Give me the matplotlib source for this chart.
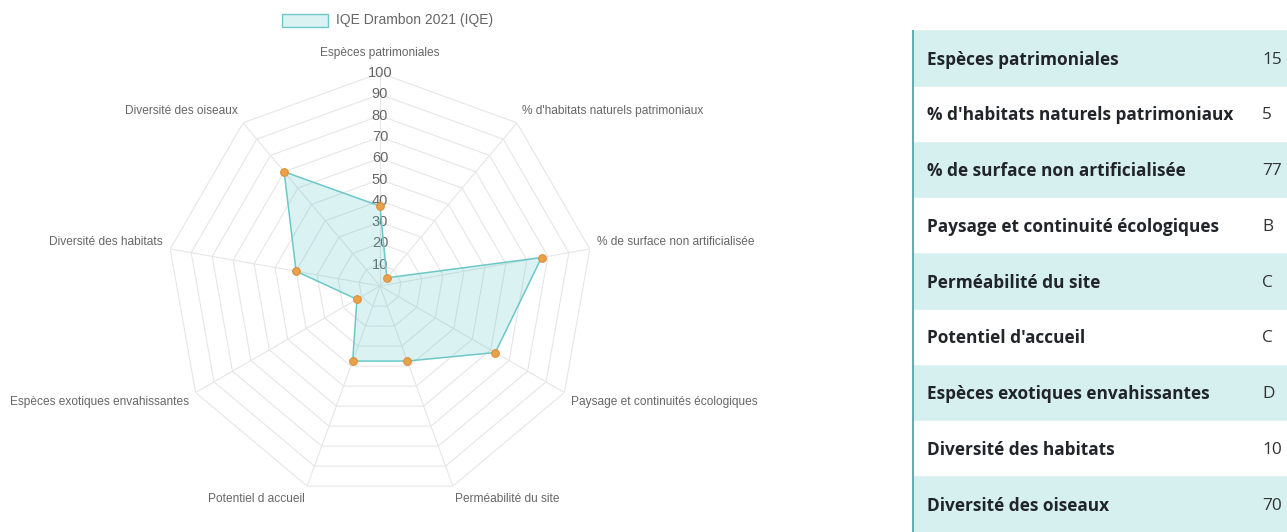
import numpy as np
import matplotlib.pyplot as plt
from matplotlib.patches import Rectangle

# radar data
categories = ["Espèces patrimoniales", "% d'habitats naturels patrimoniaux",
              "% de surface non artificialisée", "Paysage et continuités écologiques",
              "Perméabilité du site", "Potentiel d accueil",
              "Espèces exotiques envahissantes", "Diversité des habitats",
              "Diversité des oiseaux"]
values = [37.5, 5, 77, 62.5, 37.5, 37.5, 12.5, 40, 70]
ticks = [10, 20, 30, 40, 50, 60, 70, 80, 90, 100]
series_name = "IQE Drambon 2021 (IQE)"

# table data
table_labels = ["Espèces patrimoniales", "% d'habitats naturels patrimoniaux",
                "% de surface non artificialisée", "Paysage et continuité écologiques",
                "Perméabilité du site", "Potentiel d'accueil",
                "Espèces exotiques envahissantes", "Diversité des habitats",
                "Diversité des oiseaux"]
table_values = ["15", "5", "77", "B", "C", "C", "D", "10", "70"]

W, H = 1287, 532
fig = plt.figure(figsize=(W / 100, H / 100), dpi=100)

grey = "#666666"
teal = (75 / 255, 192 / 255, 192 / 255)
lab_font = "Liberation Sans"

# ---- radar ----
cx, cy, R = 380, 286, 213
ax = fig.add_axes([(cx - R) / W, (H - cy - R) / H, 2 * R / W, 2 * R / H], projection="polar")
ax.set_theta_zero_location("N")
ax.set_theta_direction(-1)
ax.set_ylim(0, 100)
ax.grid(False)
ax.spines["polar"].set_visible(False)
ax.set_xticks([])
ax.set_yticks([])
ax.patch.set_alpha(0)

n = len(categories)
theta = np.linspace(0, 2 * np.pi, n, endpoint=False)
closed = np.append(theta, theta[0])

for t in ticks:
    ax.plot(closed, [t] * (n + 1), color="#e6e6e6", lw=0.8, zorder=1)
for th in theta:
    ax.plot([th, th], [0, 100], color="#e6e6e6", lw=0.8, zorder=1)

for t in ticks:
    ax.text(0, t, str(t), ha="center", va="center", fontsize=10.5,
            color=grey, family=lab_font, zorder=2)

vals = np.append(values, values[0])
ax.fill(closed, vals, color=teal, alpha=0.2, lw=0, zorder=3)
ax.plot(closed, vals, color="#6cc8c8", lw=1.1, zorder=4)
ax.plot(theta, values, "o", ms=5.5, mfc="#eba04a", mec="#d98f3c", mew=0.8, zorder=5)

for th, lab in zip(theta, categories):
    s, c = np.sin(th), np.cos(th)
    ha = "center" if abs(s) < 0.05 else ("left" if s > 0 else "right")
    va = "bottom" if c > 0.05 else ("top" if c < -0.05 else "center")
    r = 103.5 + (3 if abs(s) < 0.05 else 0)
    ax.text(th, r, lab, ha=ha, va=va, fontsize=8.6, color=grey, family=lab_font)
for t in ax.texts:
    t.set_clip_on(False)

# legend
fig.patches.append(Rectangle((282 / W, 1 - 27 / H), 46 / W, 13 / H, transform=fig.transFigure,
                             facecolor=(*teal, 0.2), edgecolor="#6cc8c8", lw=1))
fig.text(336 / W, 1 - 20 / H, series_name, ha="left", va="center", fontsize=10,
         color=grey, family=lab_font)

# ---- table ----
tx0, ty0 = 912, 30
tab = fig.add_axes([tx0 / W, 0, (W - tx0) / W, (H - ty0) / H])
tab.set_xlim(0, W - tx0)
tab.set_ylim(len(table_labels), 0)
tab.axis("off")
for i, (lab, val) in enumerate(zip(table_labels, table_values)):
    fc = "#d6f0f0" if i % 2 == 0 else "white"
    tab.add_patch(Rectangle((0, i), W - tx0, 1, facecolor=fc, edgecolor="none"))
    tab.plot([0, W - tx0], [i, i], color="#e3f1f1", lw=0.8)
    tab.text(15, i + 0.53, lab, ha="left", va="center", fontsize=12.4, fontweight="bold",
             color="#212529", family="Open Sans")
    tab.text(350, i + 0.53, val, ha="left", va="center", fontsize=12.4,
             color="#333333", family="Open Sans")
tab.plot([1, 1], [0, len(table_labels)], color="#5fb0b0", lw=1.5)

fig.savefig("out.png", dpi=100)
